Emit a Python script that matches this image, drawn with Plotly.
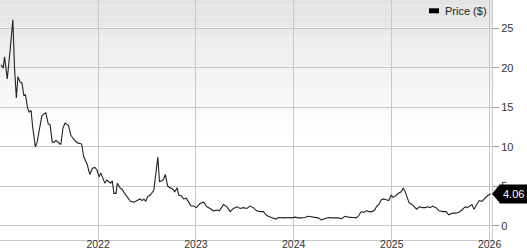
import plotly.graph_objects as go

dates = [
    "2021-01-04", "2021-01-12", "2021-01-17", "2021-01-27", "2021-02-07", "2021-02-17", "2021-02-23",
    "2021-03-02", "2021-03-08", "2021-03-16", "2021-03-23", "2021-03-30", "2021-04-05", "2021-04-13",
    "2021-04-19", "2021-04-26", "2021-05-02", "2021-05-12", "2021-05-18", "2021-05-27", "2021-06-05",
    "2021-06-14", "2021-06-20", "2021-06-29", "2021-07-06", "2021-07-14", "2021-07-21", "2021-07-28",
    "2021-08-05", "2021-08-15", "2021-08-23", "2021-08-31", "2021-09-13", "2021-09-21", "2021-10-01",
    "2021-10-16", "2021-10-29", "2021-11-01", "2021-11-08", "2021-11-22", "2021-12-01", "2021-12-11",
    "2021-12-20", "2021-12-27", "2022-01-05", "2022-01-11", "2022-01-17", "2022-01-26", "2022-02-02",
    "2022-02-11", "2022-02-17", "2022-02-23", "2022-03-01", "2022-03-09", "2022-03-14", "2022-03-24",
    "2022-04-01", "2022-04-10", "2022-04-20", "2022-05-02", "2022-05-15", "2022-05-27", "2022-06-06",
    "2022-06-15", "2022-06-21", "2022-06-28", "2022-07-05", "2022-07-15", "2022-07-22", "2022-07-28",
    "2022-08-03", "2022-08-12", "2022-08-18", "2022-08-28", "2022-09-03", "2022-09-09", "2022-09-18",
    "2022-09-28", "2022-10-08", "2022-10-14", "2022-10-23", "2022-10-29", "2022-11-07", "2022-11-16",
    "2022-11-26", "2022-12-05", "2022-12-14", "2022-12-24", "2023-01-03", "2023-01-13", "2023-01-20",
    "2023-01-30", "2023-02-11", "2023-02-23", "2023-03-08", "2023-03-21", "2023-03-30", "2023-04-14",
    "2023-04-27", "2023-05-09", "2023-05-21", "2023-06-03", "2023-06-15", "2023-06-27", "2023-07-10",
    "2023-07-22", "2023-08-03", "2023-08-16", "2023-08-28", "2023-09-10", "2023-09-22", "2023-10-05",
    "2023-10-17", "2023-10-27", "2023-11-05", "2023-11-17", "2023-11-29", "2023-12-12", "2023-12-24",
    "2024-01-06", "2024-01-18", "2024-01-30", "2024-02-12", "2024-02-24", "2024-03-08", "2024-03-20",
    "2024-04-01", "2024-04-14", "2024-04-26", "2024-05-09", "2024-05-21", "2024-06-03", "2024-06-15",
    "2024-06-28", "2024-07-10", "2024-07-22", "2024-08-01", "2024-08-09", "2024-08-22", "2024-08-31",
    "2024-09-09", "2024-09-18", "2024-09-28", "2024-10-07", "2024-10-20", "2024-10-29", "2024-11-06",
    "2024-11-14", "2024-11-23", "2024-12-01", "2024-12-11", "2024-12-21", "2024-12-30", "2025-01-05",
    "2025-01-15", "2025-01-23", "2025-02-05", "2025-02-13", "2025-02-20", "2025-03-01", "2025-03-07",
    "2025-03-17", "2025-03-26", "2025-04-04", "2025-04-14", "2025-04-24", "2025-05-06", "2025-05-15",
    "2025-05-24", "2025-06-02", "2025-06-15", "2025-06-27", "2025-07-10", "2025-07-23", "2025-08-01",
    "2025-08-16", "2025-08-28", "2025-09-09", "2025-09-19", "2025-10-02", "2025-10-10", "2025-10-20",
    "2025-10-27", "2025-11-04", "2025-11-17", "2025-11-23", "2025-12-03", "2025-12-15", "2025-12-24",
    "2026-01-05",
]

prices = [
    20.4, 20.0, 21.4, 18.6, 22.3, 26.1, 20.1,
    16.2, 18.9, 18.2, 18.1, 16.5, 16.6, 14.9,
    14.4, 14.6, 12.5, 10.0, 10.5, 12.4, 13.9,
    14.2, 14.3, 12.9, 12.8, 10.6, 10.6, 10.8,
    10.6, 10.3, 12.4, 13.0, 12.7, 11.5, 11.0,
    10.5, 10.4, 10.3, 8.8, 7.7, 6.5, 7.3,
    7.4, 7.1, 6.2, 6.7, 6.2, 5.4, 5.8,
    5.6, 5.4, 5.7, 4.1, 4.1, 5.4, 4.8,
    4.6, 4.1, 3.7, 3.1, 3.0, 3.2, 3.4,
    3.2, 3.4, 3.1, 3.7, 3.9, 4.2, 4.5,
    6.2, 8.7, 5.6, 5.7, 5.9, 6.5, 5.0,
    4.8, 4.6, 4.3, 4.8, 3.9, 3.8, 3.4,
    3.5, 3.0, 2.5, 2.5, 2.3, 2.7, 2.9,
    3.0, 2.4, 2.2, 1.9, 2.0, 1.9, 2.7,
    2.4, 1.8, 2.2, 2.4, 2.2, 2.3, 2.2,
    2.5, 2.3, 1.9, 1.8, 1.8, 1.3, 1.1,
    1.0, 0.85, 1.05, 1.0, 1.0, 1.05, 1.0,
    1.1, 1.0, 1.0, 1.05, 1.2, 1.1, 1.0,
    1.0, 0.75, 0.85, 1.05, 1.0, 1.0, 1.0,
    0.9, 1.2, 1.1, 1.1, 1.05, 1.0, 1.3,
    1.8, 1.7, 1.9, 1.8, 1.8, 2.0, 2.5,
    2.7, 3.3, 3.4, 3.3, 3.2, 3.9, 3.6,
    3.8, 4.05, 4.3, 4.8, 4.3, 3.3, 2.9,
    2.7, 2.4, 2.1, 2.4, 2.3, 2.3, 2.4,
    2.3, 2.5, 2.3, 1.9, 1.8, 1.8, 1.4,
    1.6, 1.6, 1.7, 2.0, 2.4, 2.3, 2.5,
    2.7, 2.1, 2.9, 3.2, 3.1, 3.5, 3.8,
    4.06,
]

year_ticks = ["2022-01-01", "2023-01-01", "2024-01-01", "2025-01-01", "2026-01-01"]
year_labels = ["2022", "2023", "2024", "2025", "2026"]
price_ticks = [0, 5, 10, 15, 20, 25]
series_name = "Price ($)"
last_label = "4.06"

FONT = "Liberation Sans, Arial, sans-serif"
X_RANGE = ["2020-12-31", "2026-01-10"]
Y_RANGE = [-1.8, 28.6]

fig = go.Figure()
fig.add_trace(go.Scatter(
    x=dates, y=prices, mode="lines", name=series_name,
    line=dict(color="#222222", width=1.1), showlegend=False,
))

shapes = []
# gradient background (top grey fading to white)
n = 24
for i in range(n):
    y1 = 1 - i * 0.55 / n
    y0 = 1 - (i + 1) * 0.55 / n
    c = int(228 + (255 - 228) * (i + 0.5) / n)
    shapes.append(dict(type="rect", xref="paper", yref="paper", x0=0, x1=1, y0=y0, y1=y1,
                       fillcolor=f"rgb({c},{c},{c})", line=dict(width=0), layer="below"))

# last value marker (arrow + box)
last = prices[-1]
pw = 492.0
pxh = 240.0 / (Y_RANGE[1] - Y_RANGE[0])
half = 9.5 / pxh
shapes.append(dict(type="path", xref="paper", yref="y",
                   path=f"M 1,{last} L {1 + 8/pw},{last + half} L {1 + 8/pw},{last - half} Z",
                   fillcolor="black", line=dict(width=0)))

# legend swatch
shapes.append(dict(type="rect", xref="paper", yref="paper",
                   x0=429/pw, x1=439/pw, y0=1 - 13.3/240, y1=1 - 8.3/240,
                   fillcolor="black", line=dict(width=0)))

annotations = [
    dict(xref="paper", yref="paper", x=443/pw, y=1 - 11/240, xanchor="left", yanchor="middle",
         text=series_name, showarrow=False, font=dict(family=FONT, size=11, color="#222")),
    dict(xref="paper", yref="y", x=1 + 7/pw, y=last, xanchor="left", yanchor="middle",
         text=last_label, showarrow=False, bgcolor="black", borderpad=3,
         font=dict(family=FONT, size=11, color="white")),
]

fig.update_layout(
    width=527, height=250,
    margin=dict(l=0, r=35, t=0, b=10, autoexpand=False),
    paper_bgcolor="white", plot_bgcolor="rgba(0,0,0,0)",
    shapes=shapes, annotations=annotations,
    showlegend=False,
    xaxis=dict(type="date", range=X_RANGE, tickvals=year_ticks, ticktext=year_labels,
               automargin=False, ticklabelstandoff=-6,
               showgrid=True, gridcolor="#c8c8c8", gridwidth=1,
               showline=True, linecolor="#c8c8c8", mirror=True, ticks="",
               tickfont=dict(family=FONT, size=10.5, color="#333"), zeroline=False),
    yaxis=dict(range=Y_RANGE, side="right", tickvals=price_ticks, automargin=False,
               showgrid=True, gridcolor="#c8c8c8", gridwidth=1,
               showline=True, linecolor="#c8c8c8", mirror=True,
               ticks="outside", ticklen=6, tickcolor="#999",
               tickfont=dict(family=FONT, size=11, color="#333"), zeroline=False),
)

fig.write_html("out.html")
